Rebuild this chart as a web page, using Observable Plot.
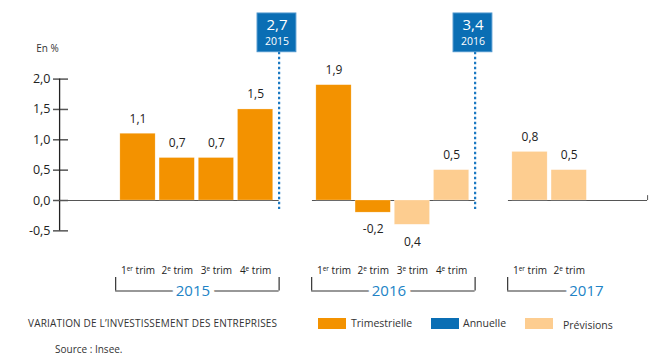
<!DOCTYPE html>
<html><head><meta charset="utf-8">
<script src="https://cdn.jsdelivr.net/npm/d3@7"></script>
<script src="https://cdn.jsdelivr.net/npm/@observablehq/plot@0.6"></script>
<style>
body{margin:0;background:#fff;font-family:"Open Sans",sans-serif;}
#wrap{position:relative;width:650px;height:360px;}
#foot{position:absolute;left:0;top:305px;width:650px;height:55px;color:#333;}
#foot .t{position:absolute;font-size:10px;line-height:12px;white-space:nowrap;}
#foot .sw{position:absolute;width:28px;height:11px;}
</style></head><body>
<div id="wrap"><div id="chart"></div><div id="foot"></div></div>
<script>
// ---- data ----
const years = ["2015", "2016", "2017"];
const quarters = ["1er trim", "2e trim", "3e trim", "4e trim"];
const yearQuarterCounts = [4, 4, 2];
const values = [1.1, 0.7, 0.7, 1.5, 1.9, -0.2, -0.4, 0.5, 0.8, 0.5];
const valueLabels = ["1,1", "0,7", "0,7", "1,5", "1,9", "-0,2", "0,4", "0,5", "0,8", "0,5"];
const kinds = ["Trimestrielle", "Trimestrielle", "Trimestrielle", "Trimestrielle", "Trimestrielle", "Trimestrielle", "Prévisions", "Prévisions", "Prévisions", "Prévisions"];
const annualValues = ["2,7", "3,4"];
const annualYears = ["2015", "2016"];
const yTicks = [-0.5, 0, 0.5, 1.0, 1.5, 2.0];
const legendLabels = ["Trimestrielle", "Annuelle", "Prévisions"];
const title = "VARIATION DE L’INVESTISSEMENT DES ENTREPRISES";
const source = "Source : Insee.";

// ---- styles / layout ----
const colors = {"Trimestrielle": "#F39200", "Annuelle": "#0A6EB4", "Prévisions": "#FDCD90"};
const yearBlue = "#2183C6";
const font = "Open Sans";
const slotsPerYear = 5;

// build table
const rows = [];
let k = 0;
years.forEach((yr, g) => {
  for (let q = 0; q < yearQuarterCounts[g]; q++) {
    rows.push({year: yr, quarter: quarters[q], slot: g * slotsPerYear + q, value: values[k], label: valueLabels[k], kind: kinds[k]});
    k++;
  }
});
const groups = years.map((yr, g) => ({year: yr, g, first: g * slotsPerYear, last: g * slotsPerYear + yearQuarterCounts[g] - 1, full: yearQuarterCounts[g] === 4}));
const annual = annualYears.map((yr, i) => {
  const gr = groups.find(d => d.year === yr);
  return {year: yr, value: annualValues[i], slot: gr.last + 0.6};
});
// zero line segments
const zeroSegs = groups.map((gr, i) => ({x1: i === 0 ? -2 : gr.first - 0.55, x2: gr.full ? gr.last + 0.6 : 13}));
const fmt = d => d.toFixed(1).replace(".", ",");

const chart = Plot.plot({
  width: 650, height: 305,
  marginLeft: 68, marginRight: 0, marginTop: 0, marginBottom: 0,
  x: {type: "linear", domain: [0, 11], range: [137.5, 568.7], axis: null},
  y: {domain: [-0.5, 2.0], range: [230.35, 78.6], axis: null},
  style: {fontFamily: font, overflow: "visible"},
  marks: [
    // y axis
    Plot.axisY(yTicks, {tickSize: 15, tickPadding: 3, tickFormat: fmt, fontSize: 12.5, stroke: "#555", strokeWidth: 1.5, color: "#222", anchor: "left", label: null}),
    Plot.ruleX([-2], {y1: -0.5, y2: 2.0, stroke: "#222", strokeWidth: 1.3}),
    Plot.text(["En %"], {x: -2.31, y: 2.504, fontSize: 10, fill: "#333"}),
    // zero baseline
    Plot.ruleY(zeroSegs, {y: 0, x1: "x1", x2: "x2", stroke: "#555", strokeWidth: 1.2}),
    Plot.ruleX([13], {y1: 0, y2: 0.08, stroke: "#555"}),
    // bars
    Plot.rectY(rows, {x1: d => d.slot - 0.45, x2: d => d.slot + 0.45, y1: 0, y2: "value", fill: d => colors[d.kind], stroke: "#fff", strokeOpacity: 0.5, strokeWidth: 0.5}),
    Plot.text(rows.filter(d => d.value >= 0), {x: "slot", y: "value", text: "label", dy: -15, fontSize: 12, fill: "#222"}),
    Plot.text(rows.filter(d => d.value < 0), {x: "slot", y: "value", text: "label", dy: 17, fontSize: 12, fill: "#222"}),
    // annual markers
    Plot.ruleX(annual, {x: "slot", y1: 2.443, y2: -0.148, stroke: "#1a78c2", strokeWidth: 2.2, strokeDasharray: "2.5,2.5"}),
    Plot.rect(annual, {x1: d => d.slot - 0.55, x2: d => d.slot + 0.44, y1: 2.443, y2: 3.081, fill: colors["Annuelle"], stroke: "#4a94cc", strokeWidth: 1}),
    Plot.text(annual, {x: d => d.slot - 0.055, y: 2.883, text: "value", fill: "#fff", fontSize: 15}),
    Plot.text(annual, {x: d => d.slot - 0.055, y: 2.624, text: "year", fill: "#fff", fontSize: 10.5}),
    // quarter labels
    Plot.text(rows, {x: "slot", y: -1.153, text: "quarter", fontSize: 10, fill: "#222", className: "qlab"}),
    // brackets
    Plot.ruleX(groups, {x: d => d.first - 0.57, y1: -1.268, y2: -1.491, stroke: "#333", strokeWidth: 1.2}),
    Plot.ruleX(groups.filter(d => d.full), {x: d => d.last + 0.6, y1: -1.268, y2: -1.491, stroke: "#333", strokeWidth: 1.2}),
    Plot.ruleY(groups, {y: -1.491, x1: d => d.first - 0.57, x2: d => d.full ? d.last + 0.6 : d.last + 0.45, stroke: "#333", strokeWidth: 1.2}),
    Plot.text(groups, {x: d => d.full ? (d.first + d.last) / 2 - 0.1 : d.last + 0.44, y: -1.5, text: "year", fill: yearBlue, fontSize: 15, stroke: "#fff", strokeWidth: 10, paintOrder: "stroke"})
  ]
});
document.getElementById("chart").appendChild(chart);

// superscripts for "1er", "2e" ...
d3.select(chart).selectAll("g.qlab text, .qlab text").each(function() {
  const t = d3.select(this);
  const s = t.text();
  const m = s.match(/^(\d)(er|e)( .*)$/);
  if (!m) return;
  t.text(null);
  t.append("tspan").text(m[1]);
  t.append("tspan").attr("font-size", "6.5px").attr("dy", "-0.45em").text(m[2]);
  t.append("tspan").attr("dy", "0.3em").text(m[3]);
});

// footer
const foot = d3.select("#foot");
foot.append("div").attr("class", "t").style("left", "28px").style("top", "12px").style("letter-spacing", "0.18px").text(title);
const legendPos = [{sw: 318, tx: 351, dt: 0}, {sw: 431, tx: 463, dt: 0}, {sw: 525, tx: 563, dt: 2}];
legendLabels.forEach((lab, i) => {
  const p = legendPos[i];
  foot.append("div").attr("class", "sw").style("left", p.sw + "px").style("top", "13px").style("background", colors[lab]);
  foot.append("div").attr("class", "t").style("left", p.tx + "px").style("top", (12 + p.dt) + "px").style("font-size", "10.5px").text(lab);
});
foot.append("div").attr("class", "t").style("left", "55px").style("top", "38px").text(source);
</script>
</body></html>
